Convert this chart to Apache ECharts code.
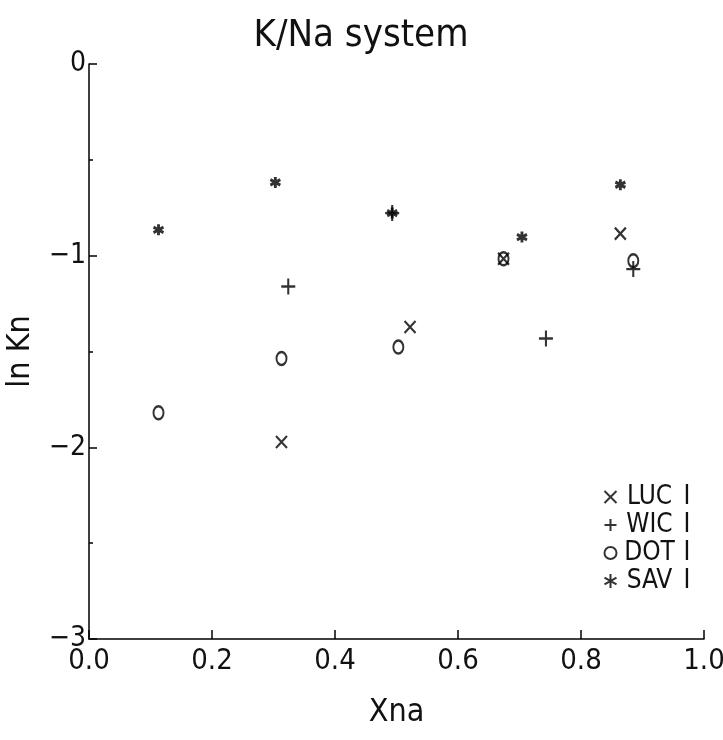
<!DOCTYPE html>
<html><head><meta charset="utf-8">
<script src="https://cdn.jsdelivr.net/npm/echarts@6/dist/echarts.min.js"></script>
<style>html,body{margin:0;padding:0;background:#fff}#c{width:723px;height:740px}</style>
</head><body><div id="c"></div>
<script>
const seriesNames = ['LUC I', 'WIC I', 'DOT I', 'SAV I'];
const lucX = [0.313, 0.522, 0.674, 0.864];
const lucY = [-1.972, -1.372, -1.016, -0.885];
const wicX = [0.324, 0.493, 0.743, 0.885];
const wicY = [-1.161, -0.778, -1.432, -1.070];
const dotX = [0.113, 0.313, 0.503, 0.674, 0.885];
const dotY = [-1.820, -1.536, -1.477, -1.016, -1.026];
const savX = [0.113, 0.303, 0.493, 0.704, 0.864];
const savY = [-0.865, -0.618, -0.778, -0.903, -0.630];
const xTicks = ['0.0', '0.2', '0.4', '0.6', '0.8', '1.0'];

const FONT = '"Liberation Sans Narrow", "DejaVu Sans Condensed", "Liberation Sans", sans-serif';
const pair = (xs, ys) => xs.map((x, i) => [x, ys[i]]);
const strokeStyle = (w) => ({ color: 'none', borderColor: '#000', borderWidth: w });

const chart = echarts.init(document.getElementById('c'), null, { renderer: 'canvas' });
chart.setOption({
  backgroundColor: '#fff',
  animation: false,
  title: {
    text: 'K/Na system', left: 356, top: 12, textAlign: 'center',
    textStyle: { fontFamily: FONT, fontSize: 38, fontWeight: 'normal', color: '#111' }
  },
  grid: { left: 89, right: 19, top: 64, bottom: 101, containLabel: false, outerBoundsMode: 'none' },
  xAxis: {
    type: 'value', min: 0, max: 1, interval: 0.2,
    name: 'Xna', nameLocation: 'middle', nameGap: 58,
    nameTextStyle: { fontFamily: FONT, fontSize: 32, color: '#111' },
    axisLine: { onZero: false, lineStyle: { color: '#000', width: 1.5 } },
    axisTick: { inside: true, length: 9, lineStyle: { color: '#000', width: 1.5 } },
    axisLabel: {
      fontFamily: FONT, fontSize: 29, color: '#111', margin: 8,
      formatter: (v) => xTicks[Math.round(v / 0.2)]
    },
    splitLine: { show: false }
  },
  yAxis: {
    type: 'value', min: -3, max: 0, interval: 1,
    name: 'ln Kn', nameLocation: 'middle', nameGap: 52, nameRotate: 90,
    nameTextStyle: { fontFamily: FONT, fontSize: 32, color: '#111' },
    axisLine: { onZero: false, lineStyle: { color: '#000', width: 1.5 } },
    axisTick: { inside: true, length: 8, lineStyle: { color: '#000', width: 1.5 } },
    minorTick: { show: true, splitNumber: 2, length: 4, lineStyle: { color: '#000', width: 1.5 } },
    axisLabel: {
      fontFamily: FONT, fontSize: 28, color: '#111', margin: 3,
      formatter: (v) => String(v).replace('-', '\u2212')
    },
    splitLine: { show: false }
  },
  legend: {
    orient: 'vertical', left: 597, top: 479, itemGap: 2,
    itemWidth: 12, itemHeight: 14,
    formatter: (name) => '{a|' + name.split(' ')[0] + '}{b|' + name.split(' ')[1] + '}',
    textStyle: {
      fontFamily: FONT, fontSize: 26, color: '#111',
      rich: {
        a: { fontFamily: FONT, fontSize: 26, color: '#111', width: 56, align: 'right' },
        b: { fontFamily: FONT, fontSize: 26, color: '#111', padding: [0, 0, 0, 6] }
      }
    },
    data: seriesNames
  },
  series: [
    { name: seriesNames[0], type: 'scatter', data: pair(lucX, lucY),
      symbol: 'path://M0,0L10,10M10,0L0,10', symbolSize: [11, 12], itemStyle: strokeStyle(2.2) },
    { name: seriesNames[1], type: 'scatter', data: pair(wicX, wicY),
      symbol: 'path://M5,0L5,10M0,5L10,5', symbolSize: [14, 16], itemStyle: strokeStyle(2.2) },
    { name: seriesNames[2], type: 'scatter', data: pair(dotX, dotY),
      symbol: 'circle', symbolSize: [10, 13], itemStyle: strokeStyle(2.2) },
    { name: seriesNames[3], type: 'scatter', data: pair(savX, savY),
      symbol: 'path://M5,0L5,10M0.67,2.5L9.33,7.5M0.67,7.5L9.33,2.5', symbolSize: [10, 11], itemStyle: strokeStyle(3) }
  ]
});
</script></body></html>
